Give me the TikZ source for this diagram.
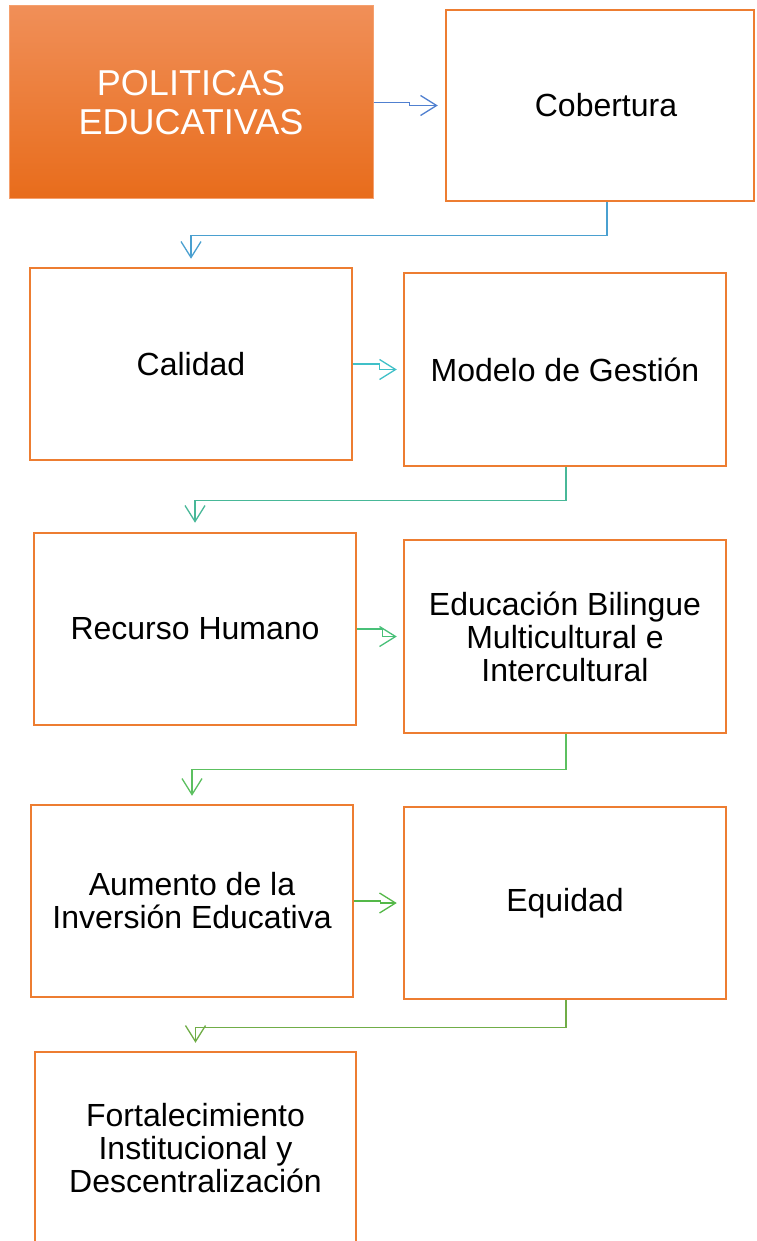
\documentclass[tikz,border=0pt]{standalone}
\usepackage{fontspec}
\setmainfont{Liberation Sans}
\usetikzlibrary{arrows.meta}
\definecolor{boxorange}{RGB}{237,125,49}
\definecolor{cA}{RGB}{80,128,208}
\definecolor{cB}{RGB}{74,160,208}
\definecolor{cC}{RGB}{64,192,200}
\definecolor{cD}{RGB}{72,184,152}
\definecolor{cE}{RGB}{72,192,120}
\definecolor{cF}{RGB}{92,192,96}
\definecolor{cG}{RGB}{84,184,72}
\definecolor{cH}{RGB}{112,173,71}
\tikzset{
  box/.style={draw=boxorange, line width=2.5pt, fill=white, align=center,
    inner sep=0pt, font=\fontsize{32}{33}\selectfont},
  mainbox/.style={draw={rgb,255:red,245;green,160;blue,110}, line width=1pt,
    top color={rgb,255:red,240;green,143;blue,88},
    bottom color={rgb,255:red,232;green,108;blue,27},
    align=center, inner sep=0pt, text=white, font=\fontsize{36}{39}\selectfont},
  conn/.style={line width=1.3pt, -{Straight Barb[length=16pt,width=20pt,line width=1.3pt]}},
  txt/.style={align=center, inner sep=0pt, font=\fontsize{32}{33}\selectfont}
}
\begin{document}
\begin{tikzpicture}[x=1pt,y=-1pt]
\useasboundingbox (0,0) rectangle (756,1241);
\clip (0,0) rectangle (756,1241);
\fill[white] (0,0) rectangle (756,1241);
% boxes
\node[mainbox, minimum width=364, minimum height=193] (n1) at (191,102.5) {POLITICAS\\EDUCATIVAS};
\node[box, minimum width=308, minimum height=191] (n2) at (600,105.5) {};
\node[txt] (t2) at (606,105) {Cobertura};
\node[box, minimum width=322, minimum height=192] (n3) at (191,364) {Calidad};
\node[box, minimum width=322, minimum height=193] (n4) at (565,369.5) {Modelo de Gestión};
\node[box, minimum width=322, minimum height=192] (n5) at (195,629) {Recurso Humano};
\node[box, minimum width=322, minimum height=193] (n6) at (565,636.5) {Educación Bilingue\\Multicultural e\\Intercultural};
\node[box, minimum width=322, minimum height=192] (n7) at (192,901) {Aumento de la\\Inversión Educativa};
\node[box, minimum width=322, minimum height=192] (n8) at (565,903) {Equidad};
\node[box, minimum width=321, minimum height=192] (n9) at (195.5,1148) {Fortalecimiento\\Institucional y\\Descentralización};
% connectors
\draw[conn, cA, shorten >=7pt] (n1.east) -- ++(36,0) |- (n2.west);
\draw[conn, cB, shorten >=8pt] ([xshift=7pt]n2.south) -- ++(0,33) -| (n3.north);
\draw[conn, cC, shorten >=6pt] (n3.east) -- ++(26,0) |- (n4.west);
\draw[conn, cD, shorten >=9pt] ([xshift=1pt]n4.south) -- ++(0,33) -| (n5.north);
\draw[conn, cE, shorten >=6pt] (n5.east) -- ++(25,0) |- (n6.west);
\draw[conn, cF, shorten >=8pt] ([xshift=1pt]n6.south) -- ++(0,35) -| (n7.north);
\draw[conn, cG, shorten >=6pt] (n7.east) -- ++(26,0) |- (n8.west);
\draw[conn, cH, shorten >=8pt] ([xshift=1pt]n8.south) -- ++(0,27) -| (n9.north);
\end{tikzpicture}
\end{document}
